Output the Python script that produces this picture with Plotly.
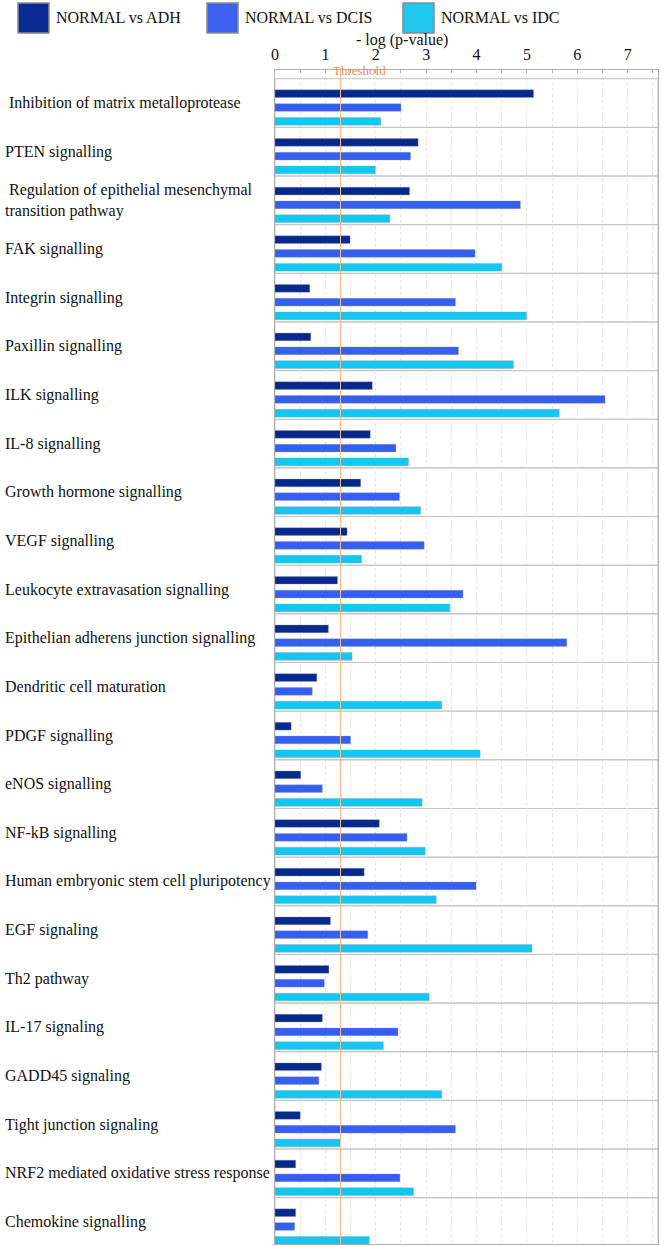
import plotly.graph_objects as go

categories = [
    " Inhibition of matrix metalloprotease",
    "PTEN signalling",
    " Regulation of epithelial mesenchymal<br>transition pathway",
    "FAK signalling",
    "Integrin signalling",
    "Paxillin signalling",
    "ILK signalling",
    "IL-8 signalling",
    "Growth hormone signalling",
    "VEGF signalling",
    "Leukocyte extravasation signalling",
    "Epithelian adherens junction signalling",
    "Dendritic cell maturation",
    "PDGF signalling",
    "eNOS signalling",
    "NF-kB signalling",
    "Human embryonic stem cell pluripotency",
    "EGF signaling",
    "Th2 pathway",
    "IL-17 signaling",
    "GADD45 signaling",
    "Tight junction signaling",
    "NRF2 mediated oxidative stress response",
    "Chemokine signalling",
]

series_names = ["NORMAL vs ADH", "NORMAL vs DCIS", "NORMAL vs IDC"]

adh = [5.13, 2.84, 2.67, 1.49, 0.69, 0.71, 1.93, 1.89, 1.70, 1.43, 1.24, 1.06,
       0.83, 0.32, 0.51, 2.07, 1.77, 1.10, 1.07, 0.94, 0.92, 0.50, 0.41, 0.41]
dcis = [2.50, 2.69, 4.87, 3.97, 3.58, 3.64, 6.55, 2.40, 2.47, 2.96, 3.73, 5.79,
        0.74, 1.50, 0.94, 2.62, 3.99, 1.84, 0.98, 2.44, 0.87, 3.58, 2.48, 0.39]
idc = [2.10, 1.99, 2.28, 4.50, 4.99, 4.73, 5.64, 2.65, 2.89, 1.72, 3.47, 1.53,
       3.31, 4.07, 2.92, 2.98, 3.20, 5.10, 3.06, 2.15, 3.31, 1.30, 2.75, 1.87]

threshold = 1.3
x_ticks = [0, 1, 2, 3, 4, 5, 6, 7]

colors = ["#07298c", "#345ff0", "#12c8f2"]
legend_colors = ["#0b2a95", "#3d62f0", "#20c8ee"]

W, H = 665, 1246
ML, MR, MT, MB = 275, 7, 70, 2
PW = W - ML - MR
PH = H - MT - MB

def px_x(p):
    return (p - ML) / PW

def px_y(p):
    return (H - MB - p) / PH

serif = "Liberation Serif"
box_shift = 0.092  # boxes/labels sit slightly above bar-group centres

ypos = list(range(len(categories)))

fig = go.Figure()
for name, vals, col in zip(series_names, [adh, dcis, idc], colors):
    fig.add_trace(go.Bar(
        x=vals, y=ypos, orientation="h", name=name,
        marker=dict(color=col, line=dict(color="rgba(150,150,170,0.6)", width=0.6)),
        showlegend=False,
    ))

shapes = []
for i in ypos:
    shapes.append(dict(type="rect", xref="x", yref="y", x0=0, x1=7.6,
                       y0=i - 0.5 - box_shift, y1=i + 0.5 - box_shift,
                       line=dict(color="#c4c4c4", width=1), layer="below"))
shapes.append(dict(type="line", xref="x", yref="paper", x0=threshold, x1=threshold,
                   y0=0, y1=1, line=dict(color="#f6bc8a", width=1), layer="above"))

annotations = []
for i, c in enumerate(categories):
    annotations.append(dict(text=c, xref="paper", yref="y", x=px_x(3), y=i - box_shift,
                            xanchor="left", yanchor="middle", showarrow=False,
                            align="left",
                            font=dict(family=serif, size=16, color="#111")))

leg_sw = [18, 207, 403]
for name, col, sx in zip(series_names, legend_colors, leg_sw):
    shapes.append(dict(type="rect", xref="paper", yref="paper",
                       x0=px_x(sx), x1=px_x(sx + 31), y0=px_y(33), y1=px_y(3),
                       fillcolor=col, line=dict(color="#8a8a8a", width=1.5)))
    annotations.append(dict(text=name, xref="paper", yref="paper",
                            x=px_x(sx + 36), y=px_y(18), xanchor="left",
                            yanchor="middle", showarrow=False,
                            font=dict(family=serif, size=16, color="#111")))

annotations.append(dict(text="- log (p-value)", xref="paper", yref="paper",
                        x=px_x(402), y=px_y(40), xanchor="center", yanchor="middle",
                        showarrow=False, font=dict(family=serif, size=16, color="#111")))
annotations.append(dict(text="Threshold", xref="x", yref="paper",
                        x=threshold + 0.38, y=px_y(71), xanchor="center", yanchor="middle",
                        showarrow=False, font=dict(family=serif, size=13, color="#f08a50")))

fig.update_layout(
    width=W, height=H,
    margin=dict(l=ML, r=MR, t=MT, b=MB),
    paper_bgcolor="white", plot_bgcolor="white",
    barmode="group", bargap=0.15, bargroupgap=0.44,
    shapes=shapes, annotations=annotations,
    xaxis=dict(side="top", range=[0, 7.6], tickvals=x_ticks,
               ticktext=[str(t) for t in x_ticks],
               showgrid=True, gridcolor="#e4e4e4", griddash="dot", gridwidth=1,
               minor=dict(dtick=0.5, tick0=0, showgrid=True, gridcolor="#e4e4e4",
                          griddash="dot", ticks="inside", ticklen=3, tickcolor="#aaa"),
               ticks="inside", ticklen=3, tickcolor="#aaa",
               showline=True, linecolor="#b0b0b0", linewidth=1, mirror=True,
               zeroline=False, ticklabelstandoff=3,
               tickfont=dict(family=serif, size=16, color="#111")),
    yaxis=dict(range=[23.36, -0.771], showticklabels=False,
               showgrid=False, zeroline=False, showline=True, linecolor="#b0b0b0",
               mirror=True, ticks=""),
)

fig.write_html("out.html", config={"displayModeBar": False})
with open("out.html", "r", encoding="utf-8") as f:
    html = f.read()
html = html.replace("<head>", "<head><style>html,body{margin:0;padding:0;}</style>", 1)
with open("out.html", "w", encoding="utf-8") as f:
    f.write(html)
